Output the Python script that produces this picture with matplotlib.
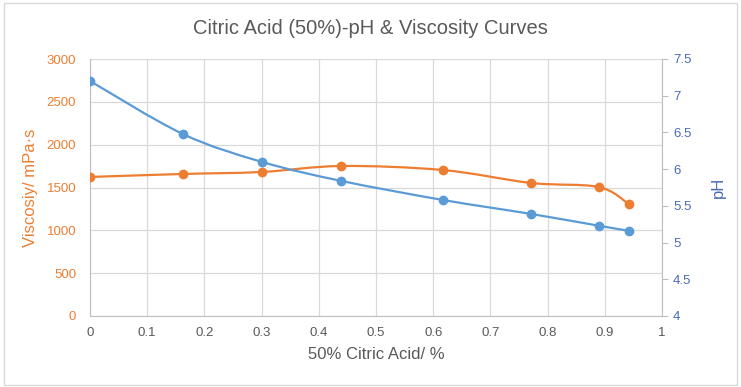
import matplotlib.pyplot as plt
import numpy as np
from matplotlib.path import Path
from matplotlib.patches import PathPatch, Rectangle

plt.rcParams['font.family'] = ['Liberation Sans', 'DejaVu Sans']

# values
acid = [0, 0.162, 0.3, 0.439, 0.617, 0.771, 0.889, 0.942]
viscosity = [1623, 1658, 1681, 1751, 1704, 1553, 1506, 1307]
ph = [7.2, 6.48, 6.1, 5.84, 5.58, 5.39, 5.23, 5.16]

orange = '#ED7D31'
blue = '#5B9BD5'
grid_col = '#D9D9D9'


def smooth_path(xs, ys):
    # Excel-like smoothed line: catmull-rom segments as cubic beziers
    pts = np.column_stack([xs, ys]).astype(float)
    n = len(pts)
    verts = [pts[0]]
    codes = [Path.MOVETO]
    for i in range(n - 1):
        p0 = pts[i - 1] if i > 0 else pts[i]
        p1 = pts[i]
        p2 = pts[i + 1]
        p3 = pts[i + 2] if i + 2 < n else pts[i + 1]
        c1 = p1 + (p2 - p0) / 6.0
        c2 = p2 - (p3 - p1) / 6.0
        verts += [c1, c2, p2]
        codes += [Path.CURVE4] * 3
    return Path(verts, codes)


fig = plt.figure(figsize=(7.41, 3.87), dpi=100)
ax = fig.add_axes([90 / 741, 1 - 316 / 387, 572 / 741, 257 / 387])
ax2 = ax.twinx()

ax.set_xlim(0, 1)
ax.set_ylim(0, 3000)
ax2.set_ylim(4, 7.5)
ax.set_xticks(np.arange(0, 1.01, 0.1))
ax.set_xticklabels(['0', '0.1', '0.2', '0.3', '0.4', '0.5', '0.6', '0.7', '0.8', '0.9', '1'])
ax.set_yticks(np.arange(0, 3001, 500))
ax2.set_yticks(np.arange(4, 7.51, 0.5))
ax2.set_yticklabels(['4', '4.5', '5', '5.5', '6', '6.5', '7', '7.5'])

ax.grid(True, color=grid_col, linewidth=0.9)
ax.set_axisbelow(True)
ax.spines['top'].set_visible(False)
ax2.spines['top'].set_visible(False)
for sp in [ax.spines['left'], ax.spines['bottom'], ax2.spines['right']]:
    sp.set_color('#BFBFBF')
ax.spines['right'].set_visible(False)
ax2.spines['left'].set_visible(False)
ax2.spines['bottom'].set_visible(False)

ax.tick_params(axis='y', length=0, colors=orange, labelsize=9.5, pad=10)
ax.tick_params(axis='x', length=0, colors='#595959', labelsize=9.5, pad=8)
ax2.tick_params(axis='y', length=4, color='#BFBFBF', labelcolor='#4A6AB5', labelsize=9.5, pad=4)

ax2.add_patch(PathPatch(smooth_path(acid, ph), facecolor='none', edgecolor=blue, lw=1.6))
ax2.plot(acid, ph, 'o', color=blue, ms=6)
ax.add_patch(PathPatch(smooth_path(acid, viscosity), facecolor='none', edgecolor=orange, lw=1.6, zorder=3))
ax.plot(acid, viscosity, 'o', color=orange, ms=6, zorder=4)

ax.set_xlabel('50% Citric Acid/ %', fontsize=12, color='#595959', labelpad=6)
ax.set_ylabel('Viscosiy/ mPa·s', fontsize=12, color=orange, labelpad=6)
ax2.set_ylabel('pH', fontsize=12, color='#4A6AB5', labelpad=14)

fig.text(0.5, 1 - 28 / 387, 'Citric Acid (50%)-pH & Viscosity Curves', ha='center', va='center',
         fontsize=14.5, color='#595959')
fig.add_artist(Rectangle((4 / 741, 2 / 387), 733 / 741, 382 / 387, transform=fig.transFigure,
                         fill=False, edgecolor='#D9D9D9', lw=1))

fig.savefig('out.png', dpi=100)
